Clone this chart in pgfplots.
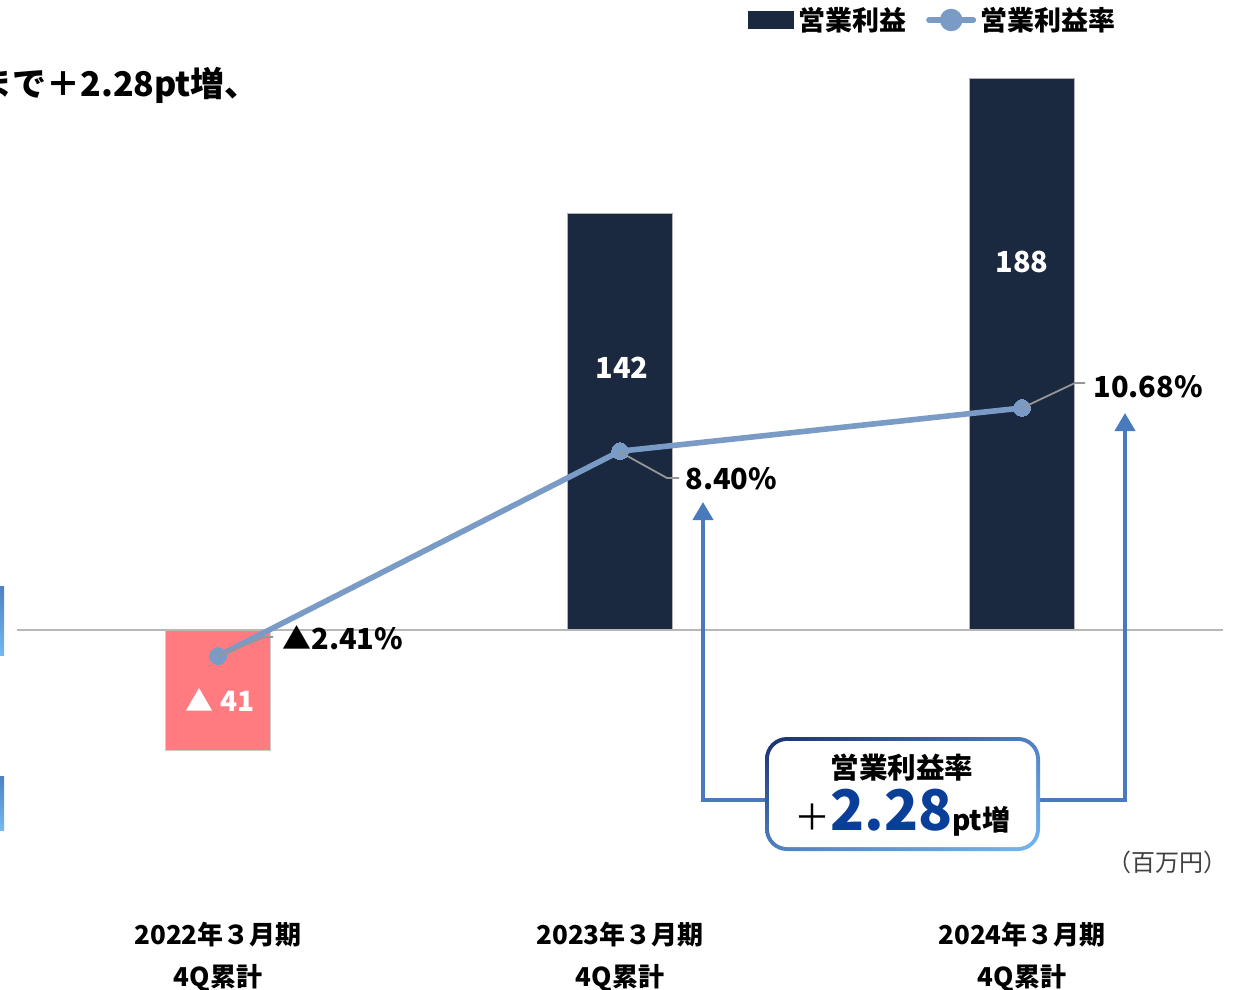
\documentclass[border=0pt]{standalone}
\usepackage{fontspec}
\setmainfont{Noto Sans CJK JP}
\usepackage{pgfplots}
\pgfplotsset{compat=1.18}
\usetikzlibrary{arrows.meta,shadings}

\definecolor{navy}{RGB}{26,40,64}
\definecolor{pinkbar}{RGB}{255,123,128}
\definecolor{ratecol}{RGB}{122,155,198}
\definecolor{arrowcol}{RGB}{74,122,190}
\definecolor{boxdark}{RGB}{27,47,110}
\definecolor{boxmid}{RGB}{78,128,196}
\definecolor{boxlight}{RGB}{116,184,242}
\definecolor{bigblue}{RGB}{10,63,153}
\definecolor{leader}{RGB}{150,150,150}

\newcommand{\fs}[1]{\fontsize{#1}{#1}\selectfont}

\begin{document}
\begin{tikzpicture}
% page = 1243 x 990 px, 1 px = 0.5pt
\useasboundingbox (0,0) rectangle (621.5pt,-495pt);

% operating profit (million yen)
\begin{axis}[
  at={(8.5pt,-491pt)}, anchor=south west,
  width=603pt, height=469.5pt, scale only axis,
  xmin=-0.5, xmax=2.5, ymin=-120, ymax=200,
  axis lines=none, clip=false,
  ybar, bar width=0.261, bar shift=0pt]
\addplot[fill=pinkbar, draw=black!20, line width=0.4pt] coordinates {(0,-41)};
\addplot[fill=navy, draw=black!30, line width=0.4pt] coordinates {(1,142) (2,188)};
\draw[black!28, line width=1pt] (axis cs:-0.5,0) -- (axis cs:2.5,0);
\end{axis}

% operating margin (%)
\begin{axis}[
  at={(8.5pt,-491pt)}, anchor=south west,
  width=603pt, height=469.5pt, scale only axis,
  xmin=-0.5, xmax=2.5, ymin=-19.61, ymax=29.94,
  axis lines=none, clip=false,
  legend columns=-1,
  legend style={at={(0.6061,1.0245)}, anchor=west, draw=none, fill=none,
    inner sep=0pt, font=\bfseries\fs{13.5},
    /tikz/every even column/.append style={column sep=8pt}}]
\addlegendimage{legend image code/.code={\fill[navy] (0pt,-4.25pt) rectangle (22.5pt,4.25pt);}}
\addlegendentry{営業利益}
\addplot[ratecol, line width=2.8pt, mark=*, mark size=4.2pt,
  mark options={fill=ratecol, draw=ratecol, line width=0pt},
  legend image code/.code={
    \draw[ratecol, line width=2.8pt, line cap=round] (1.4pt,0pt) -- (23.6pt,0pt);
    \fill[ratecol] (12.5pt,0pt) circle (4.2pt);}]
  coordinates {(0,-2.41) (1,8.40) (2,10.68)};
\addlegendentry{営業利益率}
\end{axis}

\begin{scope}[x=0.5pt, y=-0.5pt]
% cropped headline and side marks
\node[anchor=base west, inner sep=0pt, font=\bfseries\fs{17}] at (-22,97) {まで＋2.28pt増、};
\shade[top color=boxmid, bottom color=boxlight] (0,586) rectangle (4,655);
\shade[top color=boxmid, bottom color=boxlight] (0,776) rectangle (4,830);

% leader lines and data labels
\draw[leader, line width=0.9pt] (218,656) -- (265,637) -- (273,637);
\draw[leader, line width=0.9pt] (620,452) -- (667,478) -- (679,478);
\draw[leader, line width=0.9pt] (1022,408) -- (1075,383) -- (1085,383);
\node[anchor=west, inner sep=0pt, font=\bfseries\fs{14.5}] at (282,638) {▲2.41\%};
\node[anchor=west, inner sep=0pt, font=\bfseries\fs{14.5}] at (685,479) {8.40\%};
\node[anchor=west, inner sep=0pt, font=\bfseries\fs{14.5}] at (1093,387) {10.68\%};

\node[white, font=\bfseries\fs{14.5}] at (622,368) {142};
\node[white, font=\bfseries\fs{14.5}] at (1022,262) {188};
\node[white, font=\bfseries\fs{14}] at (220,700) {▲ 41};

% arrows and callout box
\draw[arrowcol, line width=2pt, -{Triangle[width=10pt,length=9pt]}] (768,800) -| (703,502);
\draw[arrowcol, line width=2pt, -{Triangle[width=10pt,length=9pt]}] (1037,800) -| (1125,413);
\shade[rounded corners=11pt, upper left=boxdark, upper right=boxmid,
  lower left=boxmid, lower right=boxlight] (765,737) rectangle (1040,851);
\fill[white, rounded corners=9pt] (769,741) rectangle (1036,847);
\node[font=\bfseries\fs{14.3}] at (902,768) {営業利益率};
\node[anchor=base west, inner sep=0pt] at (794,830)
  {{\fs{18}＋}{\color{bigblue}\bfseries\fs{28}2.28}{\bfseries\fs{14}pt増}};

% unit and category labels
\node[text=black!75, font=\fs{12}] at (1167,862) {（百万円）};
\foreach \x/\y in {218/2022, 620/2023, 1022/2024} {
  \node[font=\bfseries\fs{13}] at (\x,935) {\y 年３月期};
  \node[font=\bfseries\fs{13}] at (\x,978) {4Q累計};
}
\end{scope}
\end{tikzpicture}
\end{document}
